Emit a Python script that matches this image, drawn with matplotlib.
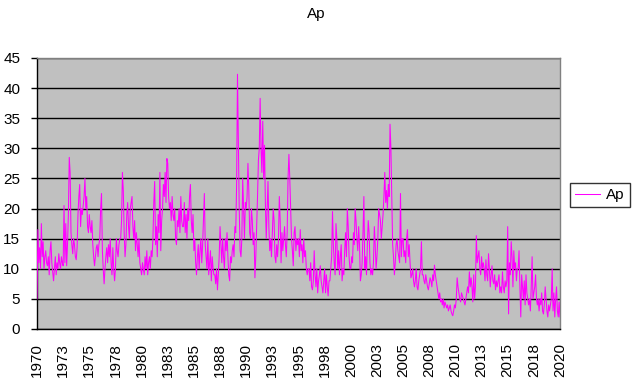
import matplotlib
matplotlib.use("Agg")
import matplotlib.pyplot as plt
import numpy as np

plt.rcParams['font.family'] = ['Liberation Sans', 'DejaVu Sans']

# Monthly Ap values, one row per year (Jan..Dec), 1970-2019, plus Jan 2020
ap_1970s = [
    [5, 16.5, 11, 13.5, 10, 17.5, 12, 14.5, 10, 12, 13, 11],      # 1970
    [10.5, 12, 9, 13, 14.5, 11, 9.5, 8, 10, 12, 9, 11],           # 1971
    [10, 12.5, 11, 10, 12, 11, 10.5, 20.5, 11, 17.5, 10.5, 14],   # 1972
    [19, 28.5, 26, 16, 14, 12.5, 15, 14, 12, 11.5, 13.5, 19],     # 1973
    [22, 24, 17, 20, 19, 20.5, 22, 25, 20, 22, 17, 16],           # 1974
    [19, 17, 16, 18, 14, 12, 10.5, 12, 13.5, 14, 12, 14],         # 1975
    [15, 20, 22.5, 13, 10, 7.5, 10, 12, 13.5, 11, 14, 12],        # 1976
    [15, 11, 9, 13.5, 10, 8, 10, 15, 13, 12, 14, 15],             # 1977
    [15, 18, 26, 23, 16, 12, 14, 19, 21, 17, 15, 20],             # 1978
    [21, 22, 17, 15, 18, 13, 16, 14, 12, 15, 11, 10],             # 1979
]
ap_1980s = [
    [9, 11, 10, 9, 12, 10, 13, 9, 11, 12, 10, 13],                # 1980
    [12, 15, 21, 24.5, 14, 17, 12, 19, 16, 26, 13, 18],           # 1981
    [20, 24, 22, 26, 21, 28.3, 27.5, 22, 20, 21, 18, 22],         # 1982
    [19, 18, 20, 15, 14, 18, 17, 20, 16, 22, 18, 17],             # 1983
    [17, 21, 16, 19, 15, 20, 18, 22, 24, 18, 16, 19],             # 1984
    [13, 15, 11, 9, 12, 14, 10, 13, 15, 11, 14, 18],              # 1985
    [22.5, 14, 12, 10, 15, 9, 11, 13, 8, 12, 10, 9],              # 1986
    [9, 7.5, 10, 6.5, 9, 12, 17, 14, 11, 15, 12, 10],             # 1987
    [15, 13, 16, 12, 9, 8, 12, 11, 13, 14, 12, 17],               # 1988
    [16, 24, 42.3, 30.5, 20, 13, 12, 15, 25, 20, 15, 21],         # 1989
]
ap_1990s = [
    [20, 22, 27.5, 23, 16, 15, 20, 18, 14, 16, 8.5, 12],          # 1990
    [17, 22, 28, 30, 38.3, 30, 26, 34.5, 25, 30.5, 21, 15],       # 1991
    [20, 24.5, 17, 13, 15, 12, 16, 20, 18, 12, 11, 14],           # 1992
    [12, 15, 22, 18, 11, 16, 13, 15, 17, 14, 12, 16],             # 1993
    [25, 29, 25, 20, 15, 13, 10.5, 16, 17, 13, 15, 14],           # 1994
    [15, 12, 16.5, 13, 14, 11, 15, 12, 13, 10, 9, 10],            # 1995
    [10, 8, 11, 7, 6.5, 8, 13, 9, 7, 10, 6, 8],                   # 1996
    [9, 10.5, 8, 7, 6, 8, 10, 6, 9, 7, 5.5, 8],                   # 1997
    [8, 10, 12, 19.5, 14, 11, 9, 17.5, 15, 10, 13, 9],            # 1998
    [12, 14, 8, 10, 9, 13, 16, 12, 20, 17, 12, 10],               # 1999
]
ap_2000s = [
    [10, 12, 11, 16, 14, 20, 18, 15, 13, 17, 14, 8],              # 2000
    [9, 11, 16, 22, 10, 12, 9, 14, 18, 16, 11, 9],                # 2001
    [10, 9, 11, 17, 14, 10, 12, 15, 20, 19, 18, 15],              # 2002
    [17, 19, 22, 26, 21, 23, 20, 24, 22, 34, 30, 22],             # 2003
    [14, 12, 9, 11, 14, 15, 13, 12, 11, 22.5, 12, 15],            # 2004
    [15, 12, 13, 11, 15, 16.5, 12, 14, 11, 8.5, 9, 10],           # 2005
    [8, 7, 8, 10, 7, 6.5, 8, 9, 10, 14.5, 9, 9],                  # 2006
    [8, 7.5, 9, 8, 7, 6.5, 7.5, 8.5, 8, 7, 9, 8],                 # 2007
    [10.6, 9, 8, 7, 6, 5, 6, 4.5, 5, 4, 5, 3.5],                  # 2008
    [4.5, 4, 3.5, 4, 3, 3.5, 4, 3, 2.5, 2.2, 3, 4],               # 2009
]
ap_2010s = [
    [3.5, 5, 8.5, 7, 6, 5, 4.5, 6, 5.5, 5, 4.5, 4],               # 2010
    [5, 6, 7, 6, 9.5, 7, 8.5, 7, 4.5, 9, 5, 7],                   # 2011
    [15.5, 11, 12, 13, 10, 9, 12, 10, 11, 10, 8, 11.5],           # 2012
    [9, 8, 12.5, 10, 7, 9, 10.5, 8, 7.5, 9, 6.5, 8],              # 2013
    [7, 8, 9, 6, 7, 6, 9.5, 7, 6, 8, 7, 8],                       # 2014
    [17, 2.5, 11, 9, 14.5, 12, 7, 13, 10, 11, 8, 10],             # 2015
    [10, 13, 7, 2, 9, 7, 5, 8, 4, 9, 6, 5],                       # 2016
    [4, 5, 3, 7, 12, 5, 6, 7, 9, 5, 4, 5],                        # 2017
    [3, 5, 4, 6, 3, 2.5, 4, 7, 5, 3, 2, 4],                       # 2018
    [3, 4, 5, 10, 3, 6, 2, 5, 7, 3, 2, 4.5],                      # 2019
]
ap_2020 = [2]

tick_labels = ['1970', '1973', '1975', '1978', '1980', '1983', '1985', '1988',
               '1990', '1993', '1995', '1998', '2000', '2003', '2005', '2008',
               '2010', '2013', '2015', '2018', '2020']
y_ticks = [0, 5, 10, 15, 20, 25, 30, 35, 40, 45]
series_name = 'Ap'

values = []
for block in (ap_1970s, ap_1980s, ap_1990s, ap_2000s, ap_2010s):
    for row in block:
        values.extend(row)
values.extend(ap_2020)
values = np.array(values, dtype=float)
idx = np.arange(len(values))

W, H = 632, 381
fig = plt.figure(figsize=(W / 100, H / 100), dpi=100)
fig.patch.set_facecolor('white')
ax = fig.add_axes([37 / W, 1 - 329 / H, (560 - 37) / W, (329 - 58) / H])
ax.set_facecolor('#C0C0C0')

ax.plot(idx, values, color='#FF00FF', linewidth=0.75, label=series_name, zorder=3)

ax.set_xlim(0, len(values) - 1)
ax.set_ylim(0, 45)
ax.set_yticks(y_ticks)
ax.set_yticklabels([str(v) for v in y_ticks], fontsize=11)
ax.set_xticks(np.arange(0, len(values), 30)[:len(tick_labels)])
ax.set_xticklabels(tick_labels, rotation=90, fontsize=11)
ax.tick_params(axis='y', length=4, width=1, color='black', pad=8, direction='out')
ax.tick_params(axis='x', length=0, pad=10)

ax.yaxis.grid(True, color='black', linewidth=1)
ax.set_axisbelow(True)
for side in ('top', 'right'):
    ax.spines[side].set_color('#808080')
    ax.spines[side].set_linewidth(1)
for side in ('left', 'bottom'):
    ax.spines[side].set_color('black')
    ax.spines[side].set_linewidth(1)

fig.text(316 / W, 1 - 14 / H, 'Ap', ha='center', va='center', fontsize=11)

leg = fig.legend(loc='center left', bbox_to_anchor=(570 / W, 1 - 195 / H),
                 frameon=True, fancybox=False, fontsize=11, handlelength=1.6,
                 borderpad=0.35, handletextpad=0.4, borderaxespad=0)
leg.get_frame().set_edgecolor('black')
leg.get_frame().set_linewidth(1)

fig.savefig('out.png', dpi=100)
